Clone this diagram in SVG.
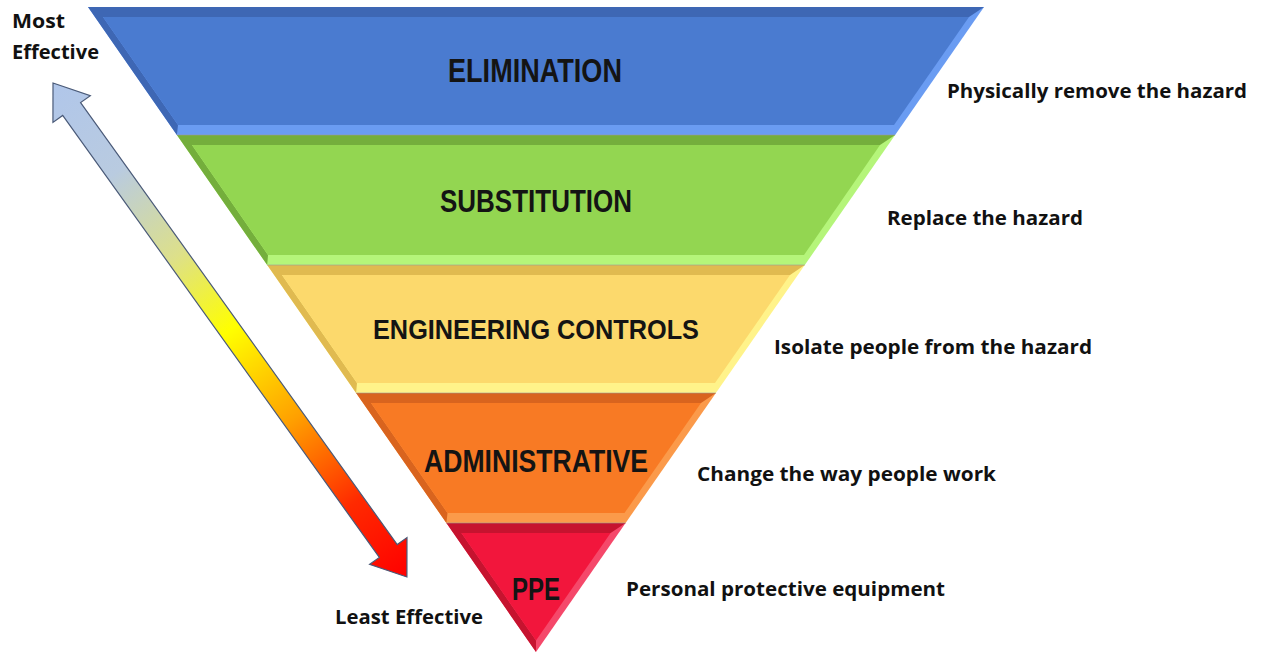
<svg xmlns="http://www.w3.org/2000/svg" width="1261" height="654" viewBox="0 0 1261 654">
<defs>
<linearGradient id="arrowGrad" gradientUnits="userSpaceOnUse" x1="0" y1="0" x2="607.7" y2="0">
<stop offset="0" stop-color="#b0c6ea"/>
<stop offset="0.18" stop-color="#b9cbe0"/>
<stop offset="0.35" stop-color="#dde08a"/>
<stop offset="0.5" stop-color="#ffff00"/>
<stop offset="0.68" stop-color="#ffa000"/>
<stop offset="0.85" stop-color="#ff2a00"/>
<stop offset="1" stop-color="#ff0000"/>
</linearGradient>
</defs>
<style>
.band-label{font-family:"Liberation Sans",Arial,sans-serif;font-weight:bold;fill:#141414;}
.desc{font-family:"Open Sans","Liberation Sans",Arial,sans-serif;font-weight:bold;fill:#111;font-size:19px;}
.seam{fill:none;stroke:#9a9a9a;stroke-width:1;opacity:0.6;}
</style>
<rect width="1261" height="654" fill="#ffffff"/>

<g id="elimination">
<polygon points="88,7 984,7 895.1,135 176.9,135" fill="#6a9cf2"/>
<polygon points="88,7 984,7 969,17 103,17 178,125 176.9,135" fill="#3e67b4"/>
<polygon points="103,17 969,17 894,125 178,125" fill="#4a7bd0"/>
<text class="band-label" x="535" y="82" font-size="33" text-anchor="middle" textLength="174" lengthAdjust="spacingAndGlyphs">ELIMINATION</text>
</g>

<g id="substitution">
<polygon points="176.9,135 895.1,135 804.8,265 267.2,265" fill="#b5f57a"/>
<polygon points="176.9,135 895.1,135 880,145 192,145 268,255 267.2,265" fill="#74ae3c"/>
<polygon points="192,145 880,145 804,255 268,255" fill="#93d651"/>
<text class="band-label" x="536" y="212" font-size="31" text-anchor="middle" textLength="192" lengthAdjust="spacingAndGlyphs">SUBSTITUTION</text>
</g>

<g id="engineering">
<polygon points="267.2,265 804.8,265 715.9,393 356.1,393" fill="#fff38a"/>
<polygon points="267.2,265 804.8,265 790,275 282,275 357,383 356.1,393" fill="#e0ba50"/>
<polygon points="282,275 790,275 715,383 357,383" fill="#fcd96c"/>
<text class="band-label" x="536" y="339" font-size="28" text-anchor="middle" textLength="326" lengthAdjust="spacingAndGlyphs">ENGINEERING CONTROLS</text>
</g>

<g id="administrative">
<polygon points="356.1,393 715.9,393 625.6,523 446.4,523" fill="#fb9a4a"/>
<polygon points="356.1,393 715.9,393 701,403 371,403 447.5,513 446.4,523" fill="#d9641e"/>
<polygon points="371,403 701,403 624.5,513 447.5,513" fill="#f87a24"/>
<text class="band-label" x="536" y="472" font-size="31" text-anchor="middle" textLength="224" lengthAdjust="spacingAndGlyphs">ADMINISTRATIVE</text>
</g>

<g id="ppe">
<polygon points="446.4,523 625.6,523 536,652" fill="#f5486a"/>
<polygon points="446.4,523 625.6,523 610.6,533 461.4,533 536,640.5 536,652" fill="#c6132f"/>
<polygon points="461.4,533 610.6,533 536,640.5" fill="#f2163c"/>
<text class="band-label" x="536" y="600" font-size="31" text-anchor="middle" textLength="48" lengthAdjust="spacingAndGlyphs">PPE</text>
</g>

<g id="seams">
<line class="seam" x1="176.9" y1="135" x2="895.1" y2="135"/>
<line class="seam" x1="267.2" y1="265" x2="804.8" y2="265"/>
<line class="seam" x1="356.1" y1="393" x2="715.9" y2="393"/>
<line class="seam" x1="446.4" y1="523" x2="625.6" y2="523"/>
</g>

<g id="connectors">
<g transform="translate(53,83) rotate(54.38)">
<polygon points="0,0 32,-23 32,-11 575.7,-11 575.7,-23 607.7,0 575.7,23 575.7,11 32,11 32,23" fill="url(#arrowGrad)" stroke="#4a5a78" stroke-width="1.2" stroke-linejoin="miter"/>
</g>
</g>

<g id="labels">
<text class="desc" x="12" y="28" textLength="53" lengthAdjust="spacingAndGlyphs">Most</text>
<text class="desc" x="12" y="59" textLength="87" lengthAdjust="spacingAndGlyphs">Effective</text>
<text class="desc" x="947" y="98" textLength="300" lengthAdjust="spacingAndGlyphs">Physically remove the hazard</text>
<text class="desc" x="887" y="225" textLength="196" lengthAdjust="spacingAndGlyphs">Replace the hazard</text>
<text class="desc" x="774" y="354" textLength="318" lengthAdjust="spacingAndGlyphs">Isolate people from the hazard</text>
<text class="desc" x="697" y="481" textLength="299" lengthAdjust="spacingAndGlyphs">Change the way people work</text>
<text class="desc" x="626" y="596" textLength="319" lengthAdjust="spacingAndGlyphs">Personal protective equipment</text>
<text class="desc" x="335" y="624" textLength="148" lengthAdjust="spacingAndGlyphs">Least Effective</text>
</g>
</svg>
